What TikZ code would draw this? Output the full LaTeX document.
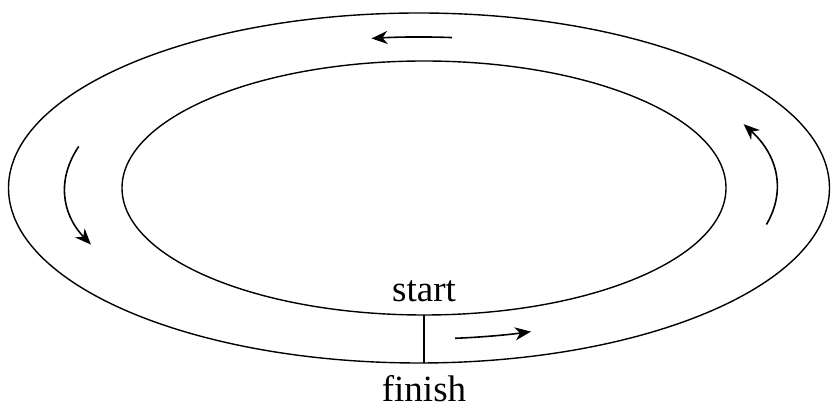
\documentclass[tikz,border=0pt]{standalone}
\usepackage{fontspec}
\setmainfont{Liberation Serif}
\usetikzlibrary{arrows.meta}
\begin{document}
\begin{tikzpicture}[x=1pt,y=1pt,
  track/.style={line width=1.4pt},
  dirarrow/.style={line width=1.6pt,-{Stealth[length=16pt,width=13pt,inset=5pt]}},
  lbl/.style={font=\fontsize{37}{40}\selectfont,inner sep=0pt,anchor=base}]
\useasboundingbox (0,0) rectangle (831,409);
\coordinate (oc) at (419,221);
\coordinate (ic) at (424,221);
\coordinate (mc) at (421,221);
\draw[track] (oc) ellipse [x radius=410.5, y radius=175];
\draw[track] (ic) ellipse [x radius=302, y radius=127];
\coordinate (sIn) at (424,94);
\coordinate (sOut) at (424,46);
\draw[track] (sIn) -- (sOut);
\node[lbl] (start) at (424,107) {start};
\node[lbl] (finish) at (424,7) {finish};
\draw[dirarrow] (mc) ++(-14:356 and 151) arc[start angle=-14, end angle=25, x radius=356, y radius=151];
\draw[dirarrow] (mc) ++(85:356 and 151) arc[start angle=85, end angle=98, x radius=356, y radius=151];
\draw[dirarrow] (mc) ++(164:356 and 151) arc[start angle=164, end angle=202, x radius=356, y radius=151];
\draw[dirarrow] (mc) ++(275.5:356 and 151) arc[start angle=275.5, end angle=288, x radius=356, y radius=151];
\end{tikzpicture}
\end{document}
